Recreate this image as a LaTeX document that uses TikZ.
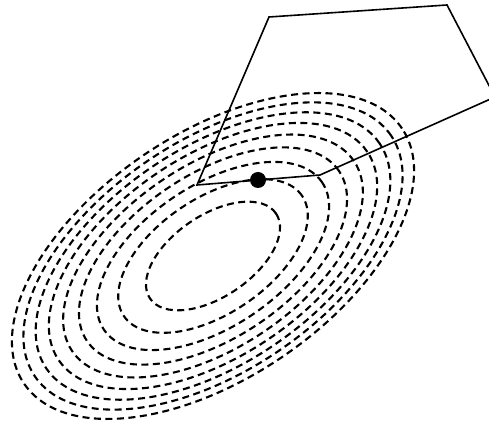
\documentclass[tikz,border=0pt]{standalone}
\begin{document}
\begin{tikzpicture}[x=1pt,y=1pt,
  contour/.style={draw=black,line width=2.1pt,dash pattern=on 7pt off 4.5pt},
  edge/.style={draw=black,line width=1.6pt,line join=miter},
  optdot/.style={circle,fill=black,inner sep=0pt,minimum size=16pt}]
\clip (0,0) rectangle (489,425);
\coordinate (c) at (213,169);
\foreach \k in {1,...,9}{
  \path[contour,rotate around={34:(c)}] (c) ellipse [x radius={76pt*sqrt(\k)}, y radius={40.8pt*sqrt(\k)}];
}
\coordinate (p1) at (197,240);
\coordinate (p2) at (269,408);
\coordinate (p3) at (447,420);
\coordinate (p4) at (495,328);
\coordinate (p5) at (320,250);
\draw[edge] (p1) -- (p2) -- (p3) -- (p4) -- (p5) -- cycle;
\node[optdot] (opt) at (258,245) {};
\end{tikzpicture}
\end{document}
